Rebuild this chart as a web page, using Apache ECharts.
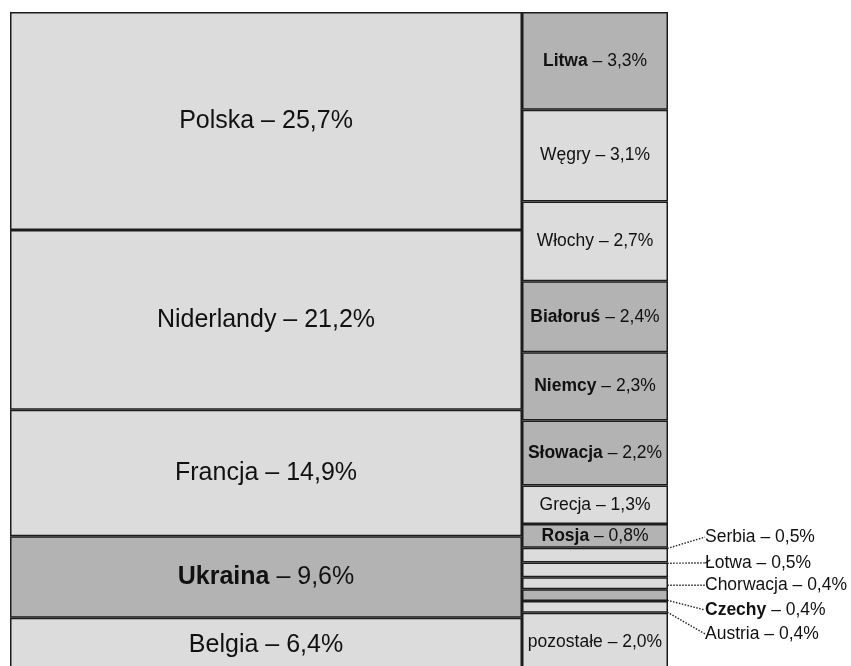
<!DOCTYPE html>
<html>
<head>
<meta charset="utf-8">
<script src="https://cdn.jsdelivr.net/npm/echarts@6/dist/echarts.min.js"></script>
<style>
  html, body { margin: 0; padding: 0; background: #fff; }
  #chart { width: 851px; height: 666px; }
</style>
</head>
<body>
<div id="chart"></div>
<script>
// lewa kolumna
const leftNames = ['Polska', 'Niderlandy', 'Francja', 'Ukraina', 'Belgia']
const leftValues = [25.7, 21.2, 14.9, 9.6, 6.4]
const leftDark = [false, false, false, true, false]

// prawa kolumna
const rightNames = ['Litwa', 'Węgry', 'Włochy', 'Białoruś', 'Niemcy', 'Słowacja', 'Grecja', 'Rosja',
  'Serbia', 'Łotwa', 'Chorwacja', 'Czechy', 'Austria', 'pozostałe']
const rightValues = [3.3, 3.1, 2.7, 2.4, 2.3, 2.2, 1.3, 0.8, 0.5, 0.5, 0.4, 0.4, 0.4, 2.0]
const rightDark = [true, false, false, true, true, true, false, true, false, false, false, true, false, false]

// etykiety poza prostokątami
const outsideNames = ['Serbia', 'Łotwa', 'Chorwacja', 'Czechy', 'Austria']
const outsideDy = [-18, -7, 2, 15, 27]

const LIGHT = '#dcdcdc'
const DARK = '#b3b3b3'
const FONT = '"Liberation Sans Narrow", "Arial Narrow", "Liberation Sans", Arial, sans-serif'

const fmt = v => v.toFixed(1).replace('.', ',') + '%'
const sum = arr => arr.reduce((a, b) => a + b, 0)

const makeSeries = (names, values, dark, idx, fontSize) => names.map((n, i) => {
  const text = dark[i] ? `{b|${n}} – ${fmt(values[i])}` : `${n} – ${fmt(values[i])}`
  const k = outsideNames.indexOf(n)
  const s = {
    type: 'bar',
    name: n,
    stack: 'col' + idx,
    xAxisIndex: idx,
    yAxisIndex: idx,
    barWidth: '100%',
    data: [values[i]],
    silent: true,
    itemStyle: {
      color: dark[i] ? DARK : LIGHT,
      borderColor: '#1c1c1c',
      borderWidth: 1.5
    },
    label: {
      show: true,
      position: 'inside',
      formatter: text,
      color: '#111',
      fontFamily: FONT,
      fontSize: fontSize,
      rich: {
        b: { fontWeight: 'bold', fontFamily: FONT, fontSize: fontSize, color: '#111' }
      }
    }
  }
  if (k >= 0) {
    s.label.position = 'right'
    s.labelLayout = p => ({
      x: p.rect.x + p.rect.width + 37,
      y: p.rect.y + p.rect.height / 2 + outsideDy[k],
      align: 'left',
      verticalAlign: 'middle'
    })
    s.labelLine = {
      show: true,
      lineStyle: { type: [1.5, 1.5], color: '#222', width: 1.4 }
    }
  }
  return s
})

const chart = echarts.init(document.getElementById('chart'))

const option = {
  animation: false,
  backgroundColor: '#fff',
  grid: [
    { left: 10, top: 12, width: 512, height: 660, outerBoundsMode: 'none' },
    { left: 522, top: 12, width: 146, height: 660, outerBoundsMode: 'none' }
  ],
  xAxis: [
    { type: 'category', gridIndex: 0, data: ['a'], show: false },
    { type: 'category', gridIndex: 1, data: ['b'], show: false }
  ],
  yAxis: [
    { type: 'value', gridIndex: 0, min: 0, max: sum(leftValues), inverse: true, show: false },
    { type: 'value', gridIndex: 1, min: 0, max: sum(rightValues), inverse: true, show: false }
  ],
  series: [
    ...makeSeries(leftNames, leftValues, leftDark, 0, 25),
    ...makeSeries(rightNames, rightValues, rightDark, 1, 17.5)
  ]
}

chart.setOption(option)
</script>
</body>
</html>
